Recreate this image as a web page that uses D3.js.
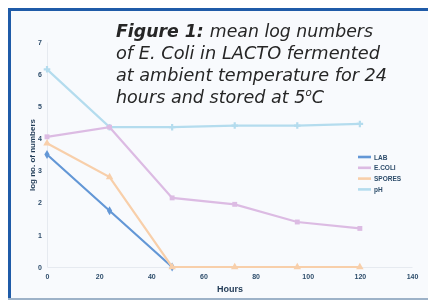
<!DOCTYPE html>
<html>
<head>
<meta charset="utf-8">
<script src="https://cdn.jsdelivr.net/npm/d3@7"></script>
<style>
  body { margin: 0; background: #fff; }
  svg { display: block; }
</style>
</head>
<body>
<script>
// values
var hours = [0, 24, 48, 72, 96, 120];
var xTicks = [0, 20, 40, 60, 80, 100, 120, 140];
var yTicks = [0, 1, 2, 3, 4, 5, 6, 7];
var seriesNames = ["LAB", "E.COLI", "SPORES", "pH"];
var lab = [3.5, 1.75, 0];
var ecoli = [4.05, 4.35, 2.15, 1.95, 1.4, 1.2];
var spores = [3.85, 2.8, 0, 0, 0, 0];
var ph = [6.15, 4.35, 4.35, 4.4, 4.4, 4.45];
var caption = ["mean log numbers", "of E. Coli in LACTO fermented",
  "at ambient temperature for 24", "hours and stored at 5"];
var captionWidths = [257, 264, 271, 208];

var width = 428, height = 300;

var svg = d3.select("body").append("svg")
    .attr("width", width)
    .attr("height", height);

var defs = svg.append("defs");
defs.append("filter").attr("id", "soft")
    .attr("x", "-5%").attr("y", "-5%").attr("width", "110%").attr("height", "110%")
  .append("feGaussianBlur").attr("stdDeviation", 0.75);

// panel + frame
svg.append("rect")
    .attr("x", 10).attr("y", 10)
    .attr("width", width - 10).attr("height", 288)
    .attr("fill", "#f8fafd");
svg.append("line")
    .attr("x1", 8).attr("x2", width).attr("y1", 9.5).attr("y2", 9.5)
    .attr("stroke", "#1f5ba8").attr("stroke-width", 3);
svg.append("line")
    .attr("x1", 9.5).attr("x2", 9.5).attr("y1", 8).attr("y2", 300)
    .attr("stroke", "#1f5ba8").attr("stroke-width", 3);
svg.append("line")
    .attr("x1", 8).attr("x2", width).attr("y1", 299).attr("y2", 299)
    .attr("stroke", "#9db2c8").attr("stroke-width", 2);

var x = d3.scaleLinear().domain([0, 140]).range([47, 412]);
var y = d3.scaleLinear().domain([0, 7]).range([267, 42]);

var chart = svg.append("g").attr("filter", "url(#soft)");

var xAxis = d3.axisBottom(x).tickValues(xTicks).tickSize(0).tickPadding(7);
var yAxis = d3.axisLeft(y).tickValues(yTicks).tickSize(0).tickPadding(5)
    .tickFormat(d3.format("d"));

var gx = chart.append("g")
    .attr("transform", "translate(0," + y(0) + ")")
    .call(xAxis);
var gy = chart.append("g")
    .attr("transform", "translate(" + x(0) + ",0)")
    .call(yAxis);

[gx, gy].forEach(function(g) {
  g.select(".domain").attr("stroke", "#e6eaf0").attr("stroke-width", 1);
  g.selectAll("text")
      .attr("fill", "#2e4d6b")
      .style("font-family", "Liberation Sans, Arial, sans-serif")
      .style("font-size", "7px")
      .style("font-weight", "bold");
});

chart.append("text")
    .attr("x", 230).attr("y", 292)
    .attr("text-anchor", "middle")
    .attr("fill", "#233d58")
    .style("font-family", "Liberation Sans, Arial, sans-serif")
    .style("font-size", "9px")
    .style("font-weight", "bold")
    .text("Hours");

chart.append("text")
    .attr("transform", "translate(35,155) rotate(-90)")
    .attr("text-anchor", "middle")
    .attr("fill", "#233d58")
    .style("font-family", "Liberation Sans, Arial, sans-serif")
    .style("font-size", "8px")
    .style("font-weight", "bold")
    .text("log no. of numbers");

var series = [
  {name: seriesNames[3], values: ph, color: "#b4dcee", symbol: d3.symbolCross},
  {name: seriesNames[1], values: ecoli, color: "#dcbbe3", symbol: d3.symbolSquare},
  {name: seriesNames[0], values: lab, color: "#6397d6", symbol: d3.symbolDiamond},
  {name: seriesNames[2], values: spores, color: "#f8cfaa", symbol: d3.symbolTriangle}
];

var line = d3.line()
    .x(function(d) { return x(d.h); })
    .y(function(d) { return y(d.v); });

series.forEach(function(s) {
  var pts = s.values.map(function(v, i) { return {h: hours[i], v: v}; });
  chart.append("path")
      .datum(pts)
      .attr("fill", "none")
      .attr("stroke", s.color)
      .attr("stroke-width", 2.2)
      .attr("d", line);
  chart.selectAll(null)
      .data(pts)
    .enter().append("path")
      .attr("transform", function(d) { return "translate(" + x(d.h) + "," + y(d.v) + ")"; })
      .attr("d", d3.symbol().type(s.symbol).size(24))
      .attr("fill", s.color);
});

// legend
var legendOrder = [series[2], series[1], series[3], series[0]];
var legend = chart.append("g").attr("transform", "translate(358,157)");
legendOrder.forEach(function(d, i) {
  var row = legend.append("g").attr("transform", "translate(0," + (i * 10.8) + ")");
  row.append("line")
      .attr("x1", 0).attr("x2", 13)
      .attr("stroke", d.color).attr("stroke-width", 2.6);
  row.append("text")
      .attr("x", 16).attr("y", 2.5)
      .attr("fill", "#2e4d6b")
      .style("font-family", "Liberation Sans, Arial, sans-serif")
      .style("font-size", "6.5px")
      .style("font-weight", "bold")
      .text(d.name);
});

// caption
var cap = svg.append("g")
    .style("font-family", "DejaVu Sans, Noto Sans, sans-serif")
    .style("font-style", "italic")
    .style("font-size", "17px")
    .attr("fill", "#262626");

caption.forEach(function(t, i) {
  var txt = cap.append("text")
      .attr("x", 116)
      .attr("y", 37 + i * 22)
      .attr("textLength", captionWidths[i])
      .attr("lengthAdjust", "spacingAndGlyphs");
  if (i === 0) {
    txt.append("tspan").style("font-weight", "bold").text("Figure 1: ");
  }
  txt.append("tspan").text(t);
  if (i === caption.length - 1) {
    txt.append("tspan").attr("dy", -7).style("font-size", "10px").text("o");
    txt.append("tspan").attr("dy", 7).text("C");
  }
});
</script>
</body>
</html>
